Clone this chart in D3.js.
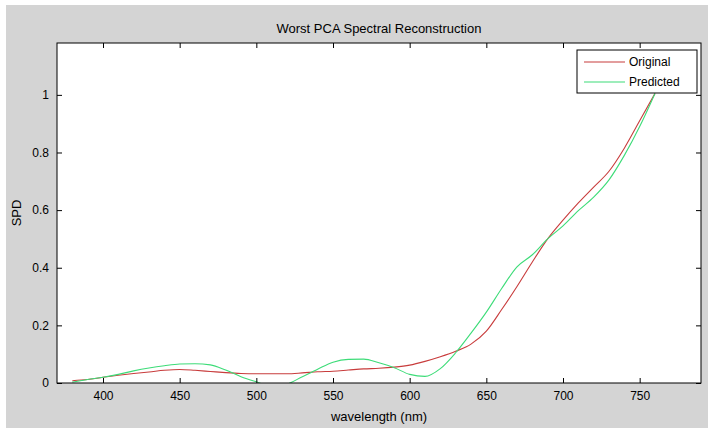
<!DOCTYPE html>
<html lang="en">
<head>
    <meta charset="UTF-8">
    <title>Worst PCA Spectral Reconstruction</title>
    <style>
        body { margin: 0; background: #fff; }
        text { font-family: "Liberation Sans", Arial, sans-serif; fill: #000; }
    </style>
</head>
<body>
<script src="https://cdn.jsdelivr.net/npm/d3@7/dist/d3.min.js"></script>
<script>
    // wavelengths (nm), 10 nm steps
    var wavelength = d3.range(380, 761, 10);
    var original = [0.008, 0.012, 0.020, 0.027, 0.033, 0.038, 0.044, 0.047, 0.044, 0.040,
        0.036, 0.033, 0.032, 0.032, 0.032, 0.035, 0.039, 0.041, 0.045, 0.049,
        0.051, 0.055, 0.062, 0.075, 0.091, 0.110, 0.135, 0.180, 0.255, 0.335,
        0.420, 0.500, 0.565, 0.625, 0.680, 0.735, 0.815, 0.910, 1.005];
    var predicted = [0.003, 0.012, 0.020, 0.030, 0.042, 0.052, 0.060, 0.066, 0.067, 0.063,
        0.045, 0.022, 0.004, -0.012, -0.004, 0.022, 0.048, 0.072, 0.082, 0.083,
        0.070, 0.053, 0.030, 0.023, 0.050, 0.105, 0.173, 0.246, 0.328, 0.403,
        0.445, 0.500, 0.545, 0.598, 0.645, 0.705, 0.790, 0.890, 1.005];
    var xTicks = [400, 450, 500, 550, 600, 650, 700, 750];
    var yTicks = [0, 0.2, 0.4, 0.6, 0.8, 1];
    var seriesNames = ["Original", "Predicted"];
    var seriesColors = ["#c83c3c", "#3ddc78"];

    var width = 708, height = 428;
    var pLeft = 57, pRight = 701, pTop = 43, pBottom = 383;

    var svg = d3.select("body").append("svg")
        .attr("width", width)
        .attr("height", height);

    /* figure background */
    svg.append("rect")
        .attr("x", 6).attr("y", 5)
        .attr("width", width - 6).attr("height", height - 5)
        .attr("fill", "#d4d4d4");

    var x = d3.scaleLinear().domain([370, 790]).range([pLeft, pRight]);
    var y = d3.scaleLinear().domain([0, 1.18]).range([pBottom, pTop]);

    svg.append("rect")
        .attr("x", pLeft).attr("y", pTop)
        .attr("width", pRight - pLeft).attr("height", pBottom - pTop)
        .attr("fill", "#fff");

    svg.append("clipPath").attr("id", "plot")
        .append("rect")
        .attr("x", pLeft).attr("y", pTop)
        .attr("width", pRight - pLeft).attr("height", pBottom - pTop);

    /* curves */
    var line = d3.line()
        .curve(d3.curveMonotoneX)
        .x(function (d) { return x(d[0]); })
        .y(function (d) { return y(d[1]); });

    [original, predicted].forEach(function (vals, k) {
        svg.append("path")
            .datum(wavelength.map(function (w, i) { return [w, vals[i]]; }))
            .attr("clip-path", "url(#plot)")
            .attr("d", line)
            .attr("fill", "none")
            .attr("stroke", seriesColors[k])
            .attr("stroke-width", 1.1);
    });

    /* axes, ticks inside on all four sides */
    var tickLen = 5;
    svg.append("g")
        .attr("transform", "translate(0," + pBottom + ")")
        .call(d3.axisBottom(x).tickValues(xTicks).tickSizeInner(-tickLen).tickSizeOuter(0).tickPadding(8))
        .call(styleAxis);
    svg.append("g")
        .attr("transform", "translate(0," + pTop + ")")
        .call(d3.axisTop(x).tickValues(xTicks).tickSizeInner(-tickLen).tickSizeOuter(0).tickFormat(""))
        .call(styleAxis);
    svg.append("g")
        .attr("transform", "translate(" + pLeft + ",0)")
        .call(d3.axisLeft(y).tickValues(yTicks).tickSizeInner(-tickLen).tickSizeOuter(0).tickPadding(8)
            .tickFormat(function (d) { return String(+d.toFixed(1)); }))
        .call(styleAxis);
    svg.append("g")
        .attr("transform", "translate(" + pRight + ",0)")
        .call(d3.axisRight(y).tickValues(yTicks).tickSizeInner(-tickLen).tickSizeOuter(0).tickFormat(""))
        .call(styleAxis);

    function styleAxis(g) {
        g.select(".domain").remove();
        g.selectAll("line").attr("stroke", "#000");
        g.selectAll("text").attr("font-size", "12px")
            .style("font-family", "'Liberation Sans', Arial, sans-serif").attr("fill", "#000");
    }

    svg.append("rect")
        .attr("x", pLeft).attr("y", pTop)
        .attr("width", pRight - pLeft).attr("height", pBottom - pTop)
        .attr("fill", "none")
        .attr("stroke", "#000")
        .attr("stroke-width", 1);

    /* titles */
    svg.append("text")
        .attr("x", (pLeft + pRight) / 2)
        .attr("y", 33)
        .attr("text-anchor", "middle")
        .attr("font-size", "13px")
        .text("Worst PCA Spectral Reconstruction");
    svg.append("text")
        .attr("x", (pLeft + pRight) / 2)
        .attr("y", 421)
        .attr("text-anchor", "middle")
        .attr("font-size", "13px")
        .text("wavelength (nm)");
    svg.append("text")
        .attr("transform", "translate(21," + (pTop + pBottom) / 2 + ") rotate(-90)")
        .attr("text-anchor", "middle")
        .attr("font-size", "13px")
        .text("SPD");

    /* legend */
    var lg = svg.append("g");
    lg.append("rect")
        .attr("x", 577).attr("y", 50)
        .attr("width", 120).attr("height", 43)
        .attr("fill", "#fff")
        .attr("stroke", "#000");
    seriesNames.forEach(function (name, k) {
        var ly = 62 + k * 20;
        lg.append("line")
            .attr("x1", 584).attr("x2", 625)
            .attr("y1", ly).attr("y2", ly)
            .attr("stroke", seriesColors[k])
            .attr("stroke-width", 1.1);
        lg.append("text")
            .attr("x", 629).attr("y", ly + 4)
            .attr("font-size", "12px")
            .text(name);
    });
</script>
</body>
</html>
